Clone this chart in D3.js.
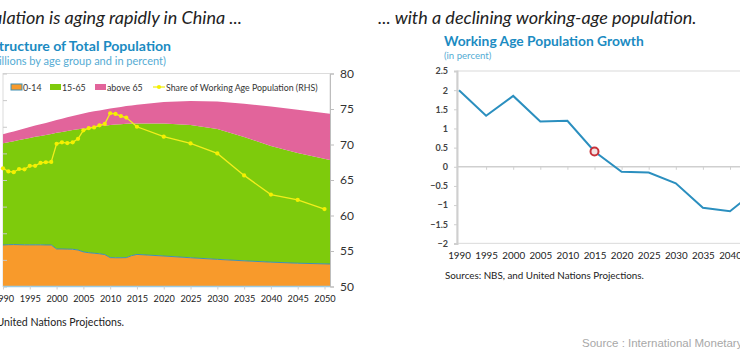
<!DOCTYPE html>
<html>
<head>
<meta charset="utf-8">
<script src="https://cdn.jsdelivr.net/npm/d3@7"></script>
<style>
  html, body { margin: 0; padding: 0; background: #fff; }
  svg { display: block; font-family: Lato, "Open Sans", sans-serif; }
</style>
</head>
<body>
<div id="chart"></div>
<script>
// Left panel: population by age group (millions), stacked
const areaYears = [1990, 1991, 1992, 1993, 1994, 1995, 1996, 1997, 1998, 1999,
  2000, 2001, 2002, 2003, 2004, 2005, 2006, 2007, 2008, 2009,
  2010, 2011, 2012, 2013, 2014, 2015, 2020, 2025, 2030, 2035, 2040, 2045, 2050];
const age0to14 = [312, 314, 315, 314, 313, 313, 313, 313, 312, 312,
  282, 282, 281, 280, 274, 260, 254, 250, 246, 240,
  217, 216, 216, 217, 232, 241, 229, 216, 204, 193, 183, 175, 169];
const age15to65 = [764, 770, 777, 786, 795, 803, 811, 818, 826, 834,
  872, 879, 887, 895, 907, 927, 939, 948, 957, 968,
  996, 1000, 1003, 1005, 992, 984, 996, 998, 980, 930, 873, 828, 782];
const ageAbove65 = [67, 70, 73, 76, 79, 82, 85, 88, 91, 94,
  97, 100, 103, 106, 109, 112, 115, 118, 120, 122,
  124, 127, 130, 133, 136, 140, 160, 180, 205, 250, 296, 324, 346];

// Share of working age population (RHS, percent)
const shareYears = [1990, 1991, 1992, 1993, 1994, 1995, 1996, 1997, 1998, 1999,
  2000, 2001, 2002, 2003, 2004, 2005, 2006, 2007, 2008, 2009,
  2010, 2011, 2012, 2013, 2015, 2020, 2025, 2030, 2035, 2040, 2045, 2050];
const shareWorking = [66.65, 66.2, 66.1, 66.55, 66.5, 67.0, 67.0, 67.4, 67.5, 67.55,
  70.1, 70.3, 70.2, 70.3, 70.8, 72.0, 72.3, 72.4, 72.7, 72.9,
  74.4, 74.3, 74.0, 73.8, 72.5, 71.1, 70.15, 68.75, 65.65, 62.95, 62.2, 60.9];

// Right panel: working age population growth (percent)
const growthYears = [1990, 1995, 2000, 2005, 2010, 2015, 2020, 2025, 2030, 2035, 2040, 2045];
const growthValues = [2.0, 1.33, 1.85, 1.18, 1.2, 0.4, -0.13, -0.15, -0.43, -1.07, -1.16, -0.6];
const highlightYear = 2015;

const W = 740, H = 350;
const svg = d3.select('#chart').append('svg')
  .attr('width', W).attr('height', H);

svg.append('rect').attr('width', W).attr('height', H).attr('fill', '#fff');

// ---------- headers ----------
svg.append('text')
  .attr('x', 242).attr('y', 24)
  .attr('text-anchor', 'end')
  .attr('font-size', 18).attr('font-style', 'italic')
  .attr('fill', '#222')
  .text('Population is aging rapidly in China ...');

svg.append('text')
  .attr('x', 378).attr('y', 24)
  .attr('font-size', 18).attr('font-style', 'italic')
  .attr('fill', '#222')
  .text('... with a declining working-age population.');

// ---------- left chart ----------
const L = { left: 3, right: 330, top: 73.5, bottom: 286.5 };

svg.append('text')
  .attr('x', 171).attr('y', 51)
  .attr('text-anchor', 'end')
  .attr('font-size', 14.1).attr('font-weight', 'bold')
  .attr('fill', '#1b8bc2')
  .text('Structure of Total Population');

svg.append('text')
  .attr('x', 166).attr('y', 65)
  .attr('text-anchor', 'end')
  .attr('font-size', 11)
  .attr('fill', '#55acd4')
  .text('(in millions by age group and in percent)');

const xL = d3.scaleLinear().domain([1990, 2050]).range([L.left, 324.5]);
const yL = d3.scaleLinear().domain([0, 1600]).range([L.bottom, L.top]);
const yR = d3.scaleLinear().domain([50, 80]).range([L.bottom, L.top]);

// plot frame
svg.append('rect')
  .attr('x', L.left).attr('y', L.top)
  .attr('width', L.right - L.left).attr('height', L.bottom - L.top)
  .attr('fill', 'none').attr('stroke', '#dcdcdc');

const rows = areaYears.map((yr, i) => ({
  year: yr, a: age0to14[i], b: age15to65[i], c: ageAbove65[i]
}));
const stacked = d3.stack().keys(['a', 'b', 'c'])(rows);
const areaColors = { a: '#f89a2b', b: '#7ecb0c', c: '#e2649b' };
const last = rows.length - 1;
const areaX = (d, i) => i === last ? L.right : xL(d.data.year);

const area = d3.area()
  .x(areaX)
  .y0(d => yL(d[0]))
  .y1(d => yL(d[1]));

const gL = svg.append('g');
gL.selectAll('path.layer')
  .data(stacked)
  .enter().append('path')
  .attr('class', 'layer')
  .attr('d', area)
  .attr('fill', d => areaColors[d.key]);

// thin blue edge on top of 0-14 layer
gL.append('path')
  .datum(stacked[0])
  .attr('d', d3.line().x(areaX).y(d => yL(d[1])))
  .attr('fill', 'none')
  .attr('stroke', '#3f90b4')
  .attr('stroke-width', 1);

// left ticks (labels are outside the crop)
svg.append('g')
  .attr('transform', `translate(${L.left},0)`)
  .call(d3.axisLeft(yL).tickValues(d3.range(0, 1601, 200)).tickSize(4).tickFormat(''))
  .call(g => g.select('.domain').remove())
  .call(g => g.selectAll('line').attr('stroke', '#c8c8c8').attr('transform', 'translate(4,0)'));

// right axis
svg.append('g')
  .attr('transform', `translate(${L.right},0)`)
  .call(d3.axisRight(yR).tickValues(d3.range(50, 81, 5)).tickSize(4).tickPadding(6))
  .call(g => g.select('.domain').attr('stroke', '#bdbdbd'))
  .call(g => g.selectAll('line').attr('stroke', '#bdbdbd'))
  .call(g => g.selectAll('text').attr('font-size', 12).attr('fill', '#333')
    .attr('font-family', 'Lato, sans-serif'));

// bottom axis
svg.append('g')
  .attr('transform', `translate(0,${L.bottom})`)
  .call(d3.axisBottom(xL).tickValues(d3.range(1990, 2051, 5)).tickFormat(d3.format('d'))
    .tickSize(3).tickPadding(6))
  .call(g => g.select('.domain').attr('stroke', '#9ccbe3').attr('stroke-width', 1.5)
    .attr('d', `M${L.left},0H${L.right}`))
  .call(g => g.selectAll('line').attr('stroke', '#cfcfcf'))
  .call(g => g.selectAll('text').attr('font-size', 9.2).attr('fill', '#222')
    .attr('font-family', 'Lato, sans-serif'));

// share line (RHS)
const shareData = shareYears.map((yr, i) => ({ year: yr, v: shareWorking[i] }));
gL.append('path')
  .datum(shareData)
  .attr('d', d3.line().x(d => xL(d.year)).y(d => yR(d.v)))
  .attr('fill', 'none')
  .attr('stroke', '#f2ee1c')
  .attr('stroke-width', 1.3);

gL.selectAll('path.mk')
  .data(shareData)
  .enter().append('path')
  .attr('class', 'mk')
  .attr('transform', d => `translate(${xL(d.year)},${yR(d.v)})`)
  .attr('d', d3.symbol(d3.symbolCircle, 14))
  .attr('fill', '#f5f000');

// legend
const legend = svg.append('g').attr('font-size', 8.8).attr('fill', '#333');
const legItems = [
  { label: '0-14', x: 11, color: areaColors.a, stroke: '#3f90b4' },
  { label: '15-65', x: 50, color: areaColors.b },
  { label: 'above 65', x: 95, color: areaColors.c }
];
legItems.forEach(it => {
  legend.append('rect')
    .attr('x', it.x).attr('y', 84).attr('width', 11).attr('height', 6)
    .attr('fill', it.color)
    .attr('stroke', it.stroke || 'none').attr('stroke-width', 1);
  legend.append('text').attr('x', it.x + 12).attr('y', 91).text(it.label);
});
legend.append('line')
  .attr('x1', 153).attr('x2', 165).attr('y1', 87).attr('y2', 87)
  .attr('stroke', '#f2ee1c').attr('stroke-width', 1.3);
legend.append('path')
  .attr('transform', 'translate(159,87)')
  .attr('d', d3.symbol(d3.symbolCircle, 14))
  .attr('fill', '#f5f000');
legend.append('text').attr('x', 166).attr('y', 91)
  .text('Share of Working Age Population (RHS)');

svg.append('text')
  .attr('x', 124).attr('y', 326)
  .attr('text-anchor', 'end')
  .attr('font-size', 10.6).attr('fill', '#222')
  .text('Sources: NBS, and United Nations Projections.');

// ---------- right chart ----------
const R = { left: 457, right: 760, top: 71, bottom: 243.4 };

svg.append('text')
  .attr('x', 444).attr('y', 46)
  .attr('font-size', 13.8).attr('font-weight', 'bold')
  .attr('fill', '#1b8bc2')
  .text('Working Age Population Growth');

svg.append('text')
  .attr('x', 444).attr('y', 59)
  .attr('font-size', 9.6)
  .attr('fill', '#55acd4')
  .text('(in percent)');

const xR = d3.scaleLinear().domain([1990, 2040]).range([459, 730]);
const yG = d3.scaleLinear().domain([-2, 2.5]).range([R.bottom, R.top]);

svg.append('rect')
  .attr('x', R.left).attr('y', R.top)
  .attr('width', R.right - R.left).attr('height', R.bottom - R.top)
  .attr('fill', 'none').attr('stroke', '#e0e0e0').attr('stroke-width', 1.2);

svg.append('g')
  .attr('transform', `translate(${R.left},0)`)
  .call(d3.axisLeft(yG).tickValues(d3.range(-2, 2.51, 0.5)).tickSize(3).tickPadding(6)
    .tickFormat(d3.format('')))
  .call(g => g.select('.domain').attr('stroke', '#cfcfcf').attr('stroke-width', 2))
  .call(g => g.selectAll('line').attr('stroke', '#cfcfcf'))
  .call(g => g.selectAll('text').attr('font-size', 9).attr('font-weight', 'bold')
    .attr('fill', '#444').attr('font-family', 'Lato, sans-serif'));

// zero line with ticks
svg.append('g')
  .attr('transform', `translate(0,${yG(0)})`)
  .call(d3.axisBottom(xR).tickValues(d3.range(1995, 2051, 5)).tickSize(3).tickFormat(''))
  .call(g => g.select('.domain').attr('stroke', '#cfcfcf').attr('stroke-width', 1.5)
    .attr('d', `M${R.left},0H${R.right}`))
  .call(g => g.selectAll('line').attr('stroke', '#cfcfcf'));

// year labels under the plot
svg.append('g')
  .attr('transform', `translate(0,${R.bottom})`)
  .call(d3.axisBottom(xR).tickValues(d3.range(1990, 2051, 5)).tickSize(0).tickPadding(9)
    .tickFormat(d3.format('d')))
  .call(g => g.select('.domain').remove())
  .call(g => g.selectAll('text').attr('font-size', 9.8).attr('fill', '#222')
    .attr('font-family', 'Lato, sans-serif'));

const growthData = growthYears.map((yr, i) => ({ year: yr, v: growthValues[i] }));
svg.append('path')
  .datum(growthData)
  .attr('d', d3.line().x(d => xR(d.year)).y(d => yG(d.v)))
  .attr('fill', 'none')
  .attr('stroke', '#2b8fbf')
  .attr('stroke-width', 2);

const hl = growthData.find(d => d.year === highlightYear);
svg.append('circle')
  .attr('cx', xR(hl.year)).attr('cy', yG(hl.v)).attr('r', 4)
  .attr('fill', '#f3e3e3')
  .attr('stroke', '#c8323a').attr('stroke-width', 2);

svg.append('text')
  .attr('x', 445).attr('y', 279)
  .attr('font-size', 9.8).attr('fill', '#222')
  .text('Sources: NBS, and United Nations Projections.');

svg.append('text')
  .attr('x', 582).attr('y', 347)
  .attr('font-family', '"Liberation Sans", Arial, sans-serif')
  .attr('font-size', 11.5).attr('fill', '#a8a8a8')
  .text('Source : International Monetary Fund');
</script>
</body>
</html>
